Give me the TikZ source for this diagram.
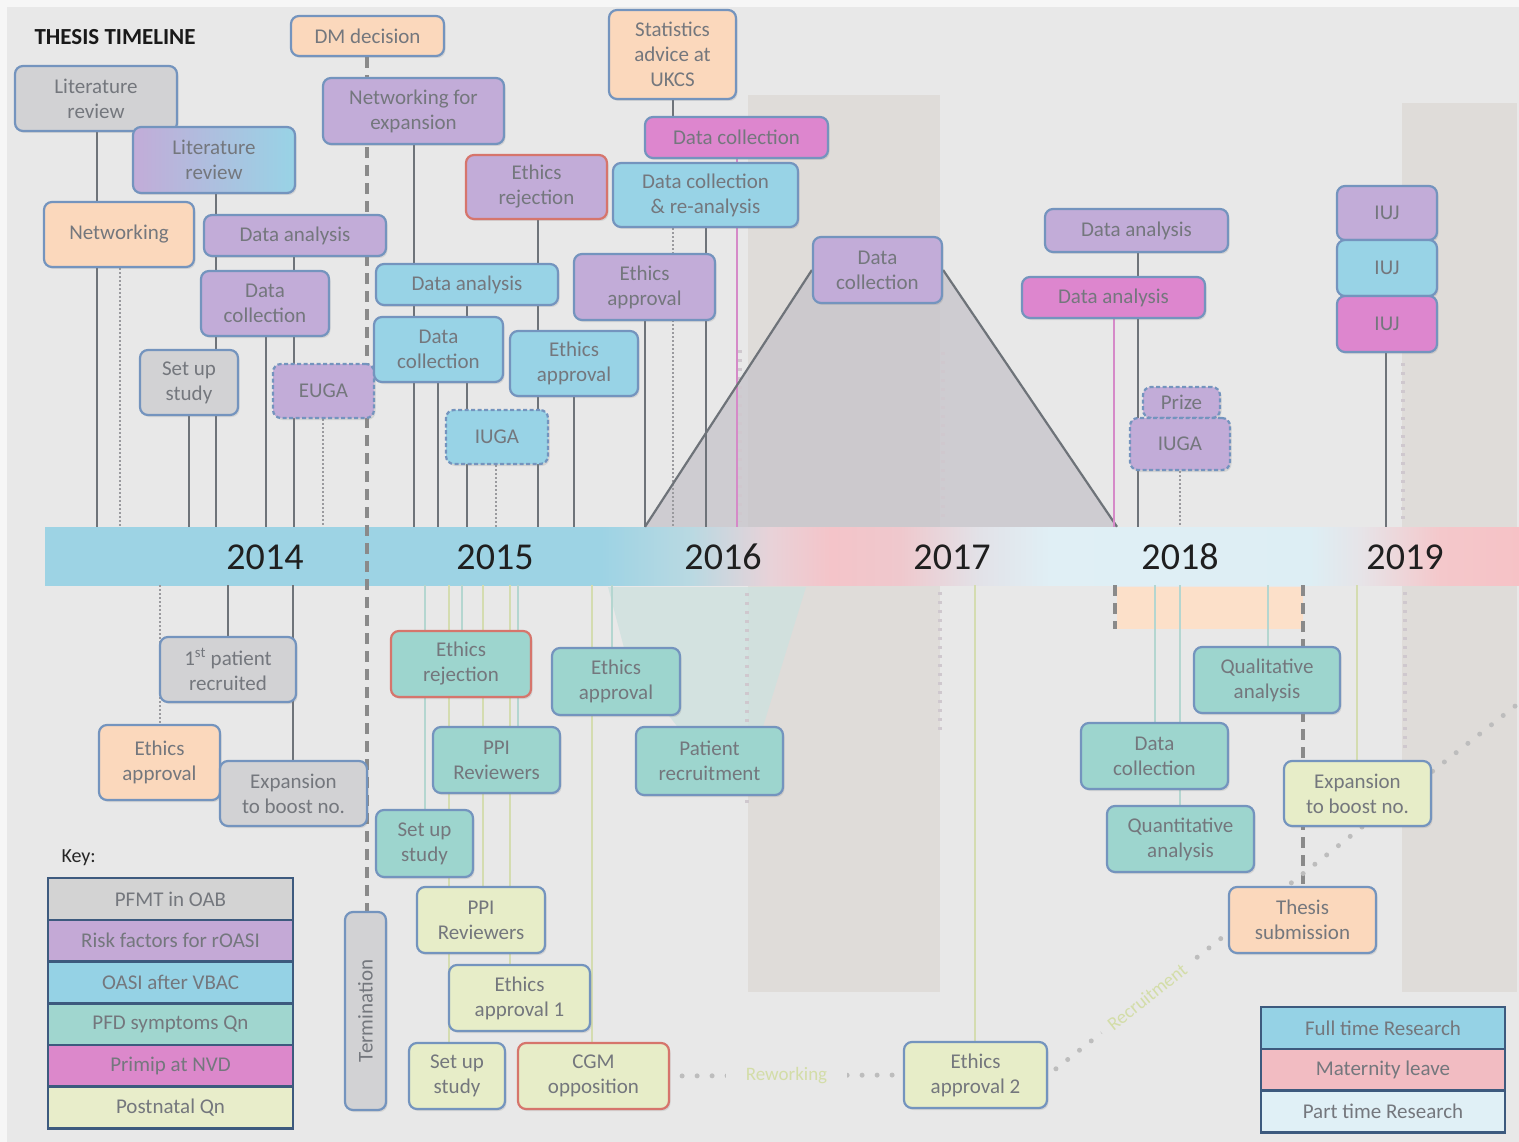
\documentclass[tikz,border=0pt]{standalone}
\usepackage{fontspec}
\setmainfont{Carlito}
\usetikzlibrary{shadows}
\definecolor{cbg}{HTML}{E8E8E8}
\definecolor{cgrey}{HTML}{D2D2D4}
\definecolor{cpurp}{HTML}{C2ACD8}
\definecolor{cblue}{HTML}{98D3E6}
\definecolor{cteal}{HTML}{9DD5CE}
\definecolor{cpink}{HTML}{DD86CE}
\definecolor{cyel}{HTML}{E7EDC8}
\definecolor{cpeach}{HTML}{FBD8BC}
\definecolor{cbord}{HTML}{7494BE}
\definecolor{cred}{HTML}{D6756C}
\definecolor{ctext}{HTML}{74777D}
\definecolor{clin}{HTML}{6E7379}
\definecolor{cpinkl}{HTML}{D58AC8}
\definecolor{cdot}{HTML}{9A9A9E}
\definecolor{cdash}{HTML}{8A8A8A}
\definecolor{ctealL}{HTML}{B4D6D0}
\definecolor{cyelL}{HTML}{D4DCB0}
\definecolor{cnavy}{HTML}{3D5A7E}
\definecolor{cpanel}{HTML}{DFDCD9}
\definecolor{ctri}{HTML}{C6C3CA}
\definecolor{cfaint}{HTML}{CFC8CE}
\definecolor{cdotL}{HTML}{BDBDBD}
\definecolor{cgreenT}{HTML}{D3DDA8}
\definecolor{kgrey}{HTML}{D3D3D3}
\definecolor{kpurp}{HTML}{C4A9D6}
\definecolor{kblue}{HTML}{95D2E5}
\definecolor{kteal}{HTML}{A0D6CF}
\definecolor{kpink}{HTML}{DC88CB}
\definecolor{kyel}{HTML}{E8EDCA}
\definecolor{lmat}{HTML}{F2BCC2}
\definecolor{lpart}{HTML}{E0F0F6}
\definecolor{bA}{HTML}{9DD3E4}
\definecolor{bB}{HTML}{B9D9E2}
\definecolor{bC}{HTML}{E8D2D8}
\definecolor{bD}{HTML}{F4C4C9}
\definecolor{bE}{HTML}{EFC8CD}
\definecolor{bF}{HTML}{E2E2E8}
\definecolor{bG}{HTML}{E0EFF5}
\definecolor{bH}{HTML}{DDEEF4}
\definecolor{bI}{HTML}{E6E4E8}
\definecolor{bJ}{HTML}{F4C8CB}
\definecolor{bK}{HTML}{F6C2C6}
\pgfdeclarehorizontalshading{bandsh}{100bp}{color(0bp)=(bA); color(25bp)=(bA); color(43.85bp)=(bA); color(46.9bp)=(bB); color(49.6bp)=(bC); color(51.65bp)=(bD); color(54bp)=(bE); color(56.7bp)=(bF); color(59.1bp)=(bG); color(67.9bp)=(bH); color(69.6bp)=(bI); color(72.3bp)=(bJ); color(75bp)=(bK); color(100bp)=(bK)}
\pgfdeclarelayer{bg}
\pgfdeclarelayer{lines}
\pgfsetlayers{bg,lines,main}
\newcommand\bfnt{\fontsize{21}{25}\selectfont}
\newcommand\mybox[7]{\node[box,#6,minimum width={(#4)-(#2)},minimum height={(#5)-(#3)}] (#1) at ({((#2)+(#4))/2},{((#3)+(#5))/2}) {#7};}
\newcommand\vl[4][]{\draw[#1] (#2,0 |- #3) -- (#2,0 |- #4);}
\begin{document}
\begin{tikzpicture}[x=1pt,y=-1pt,
  box/.style={draw=cbord, line width=2.2pt, rounded corners=8pt, text=ctext, font=\bfnt, align=center, inner sep=2pt,
    drop shadow={opacity=0.2, shadow xshift=1.5pt, shadow yshift=-2pt}},
  dsh/.style={dash pattern=on 4pt off 2.5pt},
  keyrow/.style={draw=cnavy, line width=2.5pt, text=ctext, font=\bfnt, minimum width=245, minimum height=41.7, inner sep=0pt},
  year/.style={font=\fontsize{38}{40}\selectfont, text=black!88},
  dk/.style={draw=clin, line width=2.2pt},
  pk/.style={draw=cpinkl, line width=1.6pt},
  dt/.style={draw=cdot, line width=1.8pt, dash pattern=on 2pt off 2pt},
  termdash/.style={draw=cdash, line width=4pt, dash pattern=on 11pt off 7pt},
  lt/.style={draw=ctealL, line width=2.2pt},
  ly/.style={draw=cyelL, line width=2.2pt},
  faintdot/.style={draw=cfaint, line width=3.5pt, dash pattern=on 3pt off 6pt},
  recdots/.style={draw=cdotL, line width=5pt, line cap=round, dash pattern=on 0pt off 15pt}
]
\useasboundingbox (0,0) rectangle (1519,1142);
\begin{pgfonlayer}{bg}
\fill[white!60!cbg] (0,0) rectangle (1519,1142);
\fill[cbg] (7,7) rectangle (1519,1142);
\fill[cpanel] (748,95) rectangle (940,992);
\fill[cpanel] (1402,103) rectangle (1517,992);
\fill[cteal!35!cbg, opacity=0.8] (608,587) -- (806,587) -- (762,730) -- (680,730) -- (628,663) -- cycle;
\fill[cpeach!80!white] (1117,587) rectangle (1303,629);
\node[shade, shading=bandsh, inner sep=0pt, minimum width=1474, minimum height=58] (band) at (782,556) {};
\end{pgfonlayer}

% title and years
\node[anchor=west, font=\fontsize{23}{26}\selectfont\bfseries, text=black!90] (title) at (31,37) {THESIS TIMELINE};
\node[year] (y14) at (265,557) {2014};
\node[year] (y15) at (495,557) {2015};
\node[year] (y16) at (723,557) {2016};
\node[year] (y17) at (952,557) {2017};
\node[year] (y18) at (1180,557) {2018};
\node[year] (y19) at (1405,557) {2019};

% top boxes
\mybox{litg}{15}{66}{177}{131}{fill=cgrey}{Literature\\review}
\mybox{litp}{133}{127}{295}{193}{left color=cpurp,right color=cblue}{Literature\\review}
\mybox{netw}{44}{202}{194}{267}{fill=cpeach}{Networking}
\mybox{dap}{204}{215}{386}{256}{fill=cpurp}{Data analysis}
\mybox{dcp}{201}{271}{329}{336}{fill=cpurp}{Data\\collection}
\mybox{sus}{140}{350}{238}{415}{fill=cgrey}{Set up\\study}
\mybox{euga}{273}{364}{374}{418}{fill=cpurp,dsh}{EUGA}
\mybox{dm}{291}{16}{444}{56}{fill=cpeach}{DM decision}
\mybox{nfe}{323}{78}{504}{144}{fill=cpurp}{Networking for\\expansion}
\mybox{dab}{376}{264}{558}{305}{fill=cblue}{Data analysis}
\mybox{dcb}{374}{317}{503}{382}{fill=cblue}{Data\\collection}
\mybox{iugab}{446}{410}{548}{464}{fill=cblue,dsh}{IUGA}
\mybox{erp}{466}{155}{607}{219}{fill=cpurp,draw=cred}{Ethics\\rejection}
\mybox{eap}{574}{254}{715}{320}{fill=cpurp}{Ethics\\approval}
\mybox{eab}{510}{331}{638}{396}{fill=cblue}{Ethics\\approval}
\mybox{stat}{609}{10}{736}{99}{fill=cpeach}{Statistics\\advice at\\UKCS}
\mybox{dcpk}{645}{117}{828}{158}{fill=cpink}{Data collection}
\mybox{dcra}{613}{163}{798}{227}{fill=cblue}{Data collection\\\& re-analysis}
\mybox{dcm}{813}{237}{942}{303}{fill=cpurp}{Data\\collection}
\mybox{da18}{1045}{209}{1228}{252}{fill=cpurp}{Data analysis}
\mybox{dapk}{1022}{277}{1205}{318}{fill=cpink}{Data analysis}
\mybox{prize}{1143}{387}{1220}{418}{fill=cpurp,dsh}{Prize}
\mybox{iugap}{1130}{418}{1230}{470}{fill=cpurp,dsh}{IUGA}
\mybox{iuj1}{1337}{186}{1437}{240}{fill=cpurp}{IUJ}
\mybox{iuj2}{1337}{240}{1437}{296}{fill=cblue}{IUJ}
\mybox{iuj3}{1337}{296}{1437}{352}{fill=cpink}{IUJ}

% bottom boxes
\mybox{fpr}{160}{637}{296}{702}{fill=cgrey}{1\textsuperscript{st} patient\\recruited}
\mybox{eapch}{99}{725}{220}{800}{fill=cpeach}{Ethics\\approval}
\mybox{expg}{220}{761}{367}{826}{fill=cgrey}{Expansion\\to boost no.}
\node[box, fill=cgrey, rotate=90, minimum width=198, minimum height=41] (term) at (365.5,1011) {Termination};
\mybox{ert}{391}{631}{531}{697}{fill=cteal,draw=cred}{Ethics\\rejection}
\mybox{eat}{552}{648}{680}{715}{fill=cteal}{Ethics\\approval}
\mybox{ppit}{433}{727}{560}{793}{fill=cteal}{PPI\\Reviewers}
\mybox{prt}{636}{727}{783}{795}{fill=cteal}{Patient\\recruitment}
\mybox{sut}{376}{810}{473}{877}{fill=cteal}{Set up\\study}
\mybox{ppiy}{417}{887}{545}{953}{fill=cyel}{PPI\\Reviewers}
\mybox{ea1}{449}{965}{590}{1031}{fill=cyel}{Ethics\\approval 1}
\mybox{suy}{409}{1043}{505}{1109}{fill=cyel}{Set up\\study}
\mybox{cgm}{518}{1043}{669}{1109}{fill=cyel,draw=cred}{CGM\\opposition}
\mybox{ea2}{904}{1042}{1047}{1108}{fill=cyel}{Ethics\\approval 2}
\mybox{qual}{1194}{647}{1340}{713}{fill=cteal}{Qualitative\\analysis}
\mybox{dct}{1081}{723}{1228}{789}{fill=cteal}{Data\\collection}
\mybox{quant}{1107}{806}{1254}{872}{fill=cteal}{Quantitative\\analysis}
\mybox{expy}{1284}{761}{1431}{826}{fill=cyel}{Expansion\\to boost no.}
\mybox{thesis}{1229}{887}{1376}{953}{fill=cpeach}{Thesis\\submission}

% key
\node[anchor=west, font=\fontsize{20}{24}\selectfont, text=black!85] (keylbl) at (58,858) {Key:};
\node[keyrow, fill=kgrey] (k1) at (170.5,899) {PFMT in OAB};
\node[keyrow, fill=kpurp] (k2) at (170.5,940.7) {Risk factors for rOASI};
\node[keyrow, fill=kblue] (k3) at (170.5,982.4) {OASI after VBAC};
\node[keyrow, fill=kteal] (k4) at (170.5,1024.1) {PFD symptoms Qn};
\node[keyrow, fill=kpink] (k5) at (170.5,1065.8) {Primip at NVD};
\node[keyrow, fill=kyel] (k6) at (170.5,1107.5) {Postnatal Qn};
\node[keyrow, fill=kblue, minimum width=244] (l1) at (1383,1028) {Full time Research};
\node[keyrow, fill=lmat, minimum width=244] (l2) at (1383,1069.7) {Maternity leave};
\node[keyrow, fill=lpart, minimum width=244] (l3) at (1383,1111.4) {Part time Research};

\begin{pgfonlayer}{lines}
\coordinate (tl) at (645,0 |- band.north);
\coordinate (tr) at (1117,0 |- band.north);
\fill[ctri, opacity=0.75] (dcm.west) -- (tl) -- (tr) -- (dcm.east) -- cycle;
% faint dotted
\draw[faintdot] (740,350) -- (740,522);
\draw[faintdot] (943,352) -- (943,518);
\draw[faintdot] (1403,363) -- (1403,523);
\draw[faintdot] (747,593) -- (747,805);
\draw[faintdot] (940,592) -- (940,735);
\draw[faintdot] (1405,592) -- (1405,753);
% above band
\vl[dk]{97}{litg.south}{band.north}
\vl[dt]{120}{netw.south}{band.north}
\vl[dk]{189}{sus.south}{band.north}
\vl[dk]{216}{litp.south}{band.north}
\vl[dk]{266}{dcp.south}{band.north}
\vl[dk]{294}{dap.south}{band.north}
\vl[dt]{323}{euga.south}{band.north}
\vl[dk]{414}{nfe.south}{band.north}
\vl[dk]{438}{dcb.south}{band.north}
\vl[dk]{467}{dab.south}{band.north}
\vl[dt]{496}{iugab.south}{band.north}
\vl[dk]{538}{erp.south}{band.north}
\vl[dk]{574}{eab.south}{band.north}
\vl[dk]{645}{eap.south}{band.north}
\vl[dk]{673}{stat.south}{dcpk.north}
\vl[dt]{673}{dcra.south}{band.north}
\vl[dk]{706}{dcra.south}{band.north}
\vl[pk]{737}{dcpk.south}{band.north}
\draw[dk] (dcm.west) -- (tl);
\draw[dk] (dcm.east) -- (tr);
\vl[pk]{1114}{dapk.south}{band.north}
\vl[dk]{1138}{da18.south}{band.north}
\vl[dt]{1180}{iugap.south}{band.north}
\vl[dk]{1386}{iuj3.south}{band.north}
% termination
\vl[termdash]{367}{dm.south}{term.north}
% below band
\vl[dt]{160}{band.south}{eapch.north}
\vl[dk]{228}{band.south}{fpr.north}
\vl[dk]{293}{band.south}{expg.north}
\vl[lt]{425}{band.south}{sut.north}
\vl[ly]{449}{band.south}{suy.north}
\vl[lt]{462}{band.south}{ert.north}
\vl[ly]{483}{band.south}{ppiy.north}
\vl[ly]{510}{band.south}{ea1.north}
\vl[lt]{518}{band.south}{ppit.north}
\vl[ly]{592}{band.south}{cgm.north}
\vl[lt]{612}{band.south}{eat.north}
\vl[ly]{975}{band.south}{ea2.north}
\vl[lt]{1155}{band.south}{dct.north}
\vl[lt]{1180}{band.south}{quant.north}
\vl[lt]{1268}{band.south}{qual.north}
\vl[ly]{1357}{band.south}{expy.north}
\vl[termdash]{1115}{band.south}{629,629}
\vl[termdash]{1303}{band.south}{thesis.north}
% dotted connectors
\coordinate (recend) at (1519,703);
\draw[recdots, shorten <=10pt] (ea2.east) -- node[pos=0.21, sloped, fill=cbg, inner xsep=10pt, text=cgreenT, font=\fontsize{19}{22}\selectfont] (rectxt) {Recruitment} (recend);
\draw[recdots, shorten <=12pt, shorten >=6pt] (cgm.east) -- node[fill=cbg, inner xsep=20pt, text=cgreenT, font=\fontsize{19}{22}\selectfont] (rwtxt) {Reworking} (ea2.west);
\end{pgfonlayer}
\end{tikzpicture}
\end{document}
